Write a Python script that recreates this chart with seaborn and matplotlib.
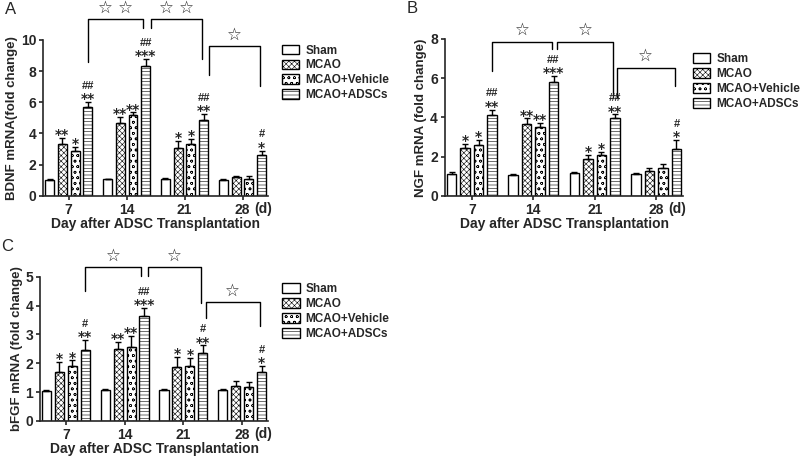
import matplotlib
matplotlib.use('Agg')
import matplotlib.pyplot as plt
from matplotlib.patches import Patch
import seaborn as sns
import pandas as pd

days = ['7', '14', '21', '28']
groups = ['Sham', 'MCAO', 'MCAO+Vehicle', 'MCAO+ADSCs']
hatches = ['', 'xxxxxx', 'ooo', '-----']

# BDNF
bdnf_mean = [[1.0, 3.35, 2.85, 5.7], [1.05, 4.65, 5.2, 8.3], [1.07, 3.05, 3.3, 4.85], [1.0, 1.2, 1.1, 2.6]]
bdnf_err = [[0.1, 0.35, 0.3, 0.3], [0.05, 0.4, 0.15, 0.45], [0.05, 0.45, 0.35, 0.4], [0.05, 0.1, 0.2, 0.3]]
bdnf_star = [['', '**', '*', '**'], ['', '**', '**', '***'], ['', '*', '*', '**'], ['', '', '', '*']]
bdnf_hash = [['', '', '', '##'], ['', '', '', '##'], ['', '', '', '##'], ['', '', '', '#']]

# NGF
ngf_mean = [[1.1, 2.45, 2.6, 4.1], [1.05, 3.65, 3.5, 5.8], [1.15, 1.9, 2.1, 3.95], [1.1, 1.25, 1.4, 2.4]]
ngf_err = [[0.1, 0.2, 0.25, 0.3], [0.05, 0.3, 0.2, 0.3], [0.05, 0.2, 0.15, 0.2], [0.05, 0.15, 0.2, 0.45]]
ngf_star = [['', '*', '*', '**'], ['', '**', '**', '***'], ['', '*', '*', '**'], ['', '', '', '*']]
ngf_hash = [['', '', '', '##'], ['', '', '', '##'], ['', '', '', '##'], ['', '', '', '#']]

# bFGF
bfgf_mean = [[1.05, 1.7, 1.9, 2.45], [1.07, 2.48, 2.57, 3.65], [1.07, 1.88, 1.92, 2.37], [1.07, 1.22, 1.18, 1.7]]
bfgf_err = [[0.03, 0.35, 0.2, 0.35], [0.03, 0.25, 0.38, 0.28], [0.03, 0.33, 0.28, 0.25], [0.03, 0.15, 0.18, 0.2]]
bfgf_star = [['', '*', '*', '**'], ['', '**', '**', '***'], ['', '*', '*', '**'], ['', '', '', '*']]
bfgf_hash = [['', '', '', '#'], ['', '', '', '##'], ['', '', '', '#'], ['', '', '', '#']]

# brackets: (x_left, x_right, y_top, y_left_end, y_right_end, label)
bdnf_br = [(0.34, 1.28, 11.35, 8.6, 10.75, '☆ ☆'), (1.42, 2.3, 11.35, 10.75, 8.8, '☆ ☆'),
           (2.42, 3.3, 9.6, 7.75, 7.05, '☆')]
ngf_br = [(0.33, 1.3, 7.86, 6.34, 7.47, '☆'), (1.38, 2.3, 7.86, 7.47, 5.06, '☆'),
          (2.36, 3.3, 6.54, 5.06, 5.6, '☆')]
bfgf_br = [(0.33, 1.28, 5.35, 4.5, 5.02, '☆'), (1.4, 2.3, 5.35, 5.02, 4.09, '☆'),
           (2.38, 3.3, 4.12, 3.57, 3.28, '☆')]

sns.set_style('ticks')
plt.rcParams['font.family'] = ['Liberation Sans', 'DejaVu Sans']
plt.rcParams['font.weight'] = 'bold'
plt.rcParams['axes.labelweight'] = 'bold'
plt.rcParams['hatch.linewidth'] = 0.4

fig = plt.figure(figsize=(8, 4.63), dpi=100)


def panel(rect, means, errs, stars, hashes, brackets, ylabel, yticks, letter, leg_pos):
    ax = fig.add_axes(rect)
    df = pd.DataFrame([(d, g, means[i][j]) for i, d in enumerate(days) for j, g in enumerate(groups)],
                      columns=['day', 'group', 'value'])
    sns.barplot(data=df, x='day', y='value', hue='group', order=days, hue_order=groups,
                palette=['white'] * 4, edgecolor='black', linewidth=1.0, width=0.88, gap=0.3,
                errorbar=None, legend=False, ax=ax)
    bar_conts = list(ax.containers)
    for j, cont in enumerate(bar_conts):
        for i, bar in enumerate(cont):
            bar.set_hatch(hatches[j])
            x = bar.get_x() + bar.get_width() / 2
            h = bar.get_height()
            e = errs[i][j]
            ax.errorbar(x, h, yerr=[[0], [e]], fmt='none', ecolor='black', elinewidth=1.0,
                        capsize=2.5, capthick=1.0)
            if stars[i][j]:
                ax.annotate(stars[i][j], (x, h + e), xytext=(0, -3), textcoords='offset points',
                            ha='center', va='bottom', fontsize=10, family='DejaVu Sans')
            if hashes[i][j]:
                ax.annotate(hashes[i][j], (x, h + e), xytext=(0, 8), textcoords='offset points',
                            ha='center', va='bottom', fontsize=8)
    for xl, xr, yt, yl, yr, lab in brackets:
        ax.plot([xl, xl, xr, xr], [yl, yt, yt, yr], color='black', lw=1.0, clip_on=False)
        ax.text((xl + xr) / 2, yt + yticks[-1] * 0.015, lab, ha='center', va='bottom',
                fontsize=12, family='DejaVu Sans', fontweight='normal')
    ax.set_xlim(-0.44, 3.44)
    ax.set_ylim(0, yticks[-1])
    ax.set_yticks(yticks)
    ax.set_xticks(range(4))
    ax.set_xticklabels(days)
    ax.text(3.2, -0.04, '(d)', transform=ax.get_xaxis_transform(), ha='left', va='top',
            fontsize=10)
    ax.tick_params(axis='both', labelsize=10, width=1.2, length=3, pad=2)
    ax.set_ylabel(ylabel, fontsize=9.5, labelpad=2)
    ax.set_xlabel('Day after ADSC Transplantation', fontsize=10, labelpad=0)
    sns.despine(ax=ax)
    for s in ['left', 'bottom']:
        ax.spines[s].set_linewidth(1.2)
    handles = [Patch(facecolor='white', edgecolor='black', hatch=h, label=g) for h, g in zip(hatches, groups)]
    ax.legend(handles=handles, loc='upper left', bbox_to_anchor=leg_pos, frameon=False,
              prop={'weight': 'bold', 'size': 8.5}, handlelength=1.5, handleheight=0.9,
              labelspacing=0.25, handletextpad=0.5, borderaxespad=0)
    fig.text(rect[0] - 0.048, rect[1] + rect[3] + 0.055, letter, fontsize=12, fontweight='normal')
    return ax


panel([0.054, 0.577, 0.281, 0.337], bdnf_mean, bdnf_err, bdnf_star, bdnf_hash, bdnf_br,
      'BDNF mRNA(fold change)', [0, 2, 4, 6, 8, 10], 'A', (1.04, 1.0))
panel([0.556, 0.577, 0.298, 0.339], ngf_mean, ngf_err, ngf_star, ngf_hash, ngf_br,
      'NGF mRNA (fold change)', [0, 2, 4, 6, 8], 'B', (1.02, 0.94))
panel([0.05, 0.091, 0.285, 0.311], bfgf_mean, bfgf_err, bfgf_star, bfgf_hash, bfgf_br,
      'bFGF mRNA (fold change)', [0, 1, 2, 3, 4, 5], 'C', (1.04, 0.99))

fig.savefig('out.png', dpi=100)
